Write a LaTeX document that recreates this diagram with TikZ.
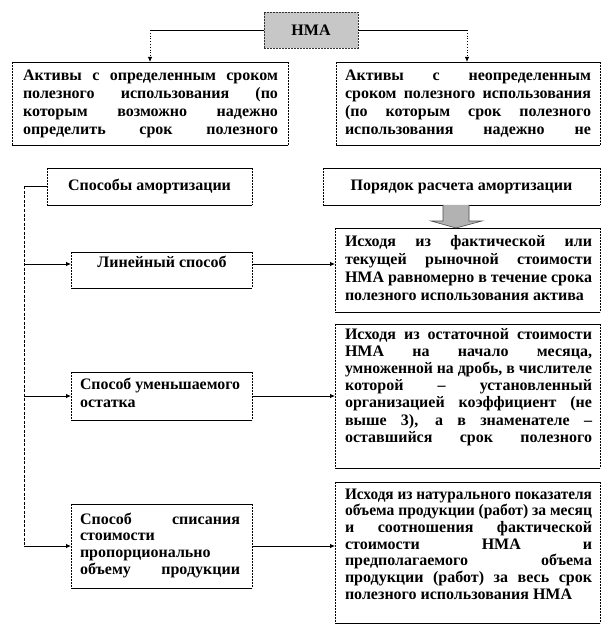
\documentclass[tikz,border=0pt]{standalone}
\usepackage{graphicx}
\usepackage{fontspec}
\setmainfont{Liberation Serif}
\usetikzlibrary{arrows.meta}
\newsavebox\lnbox
\newcommand\jl[1]{\sbox\lnbox{\spaceskip=0pt\xspaceskip=0pt #1}%
  \ifdim\wd\lnbox>\hsize\resizebox{\hsize}{\height}{\usebox\lnbox}%
  \else\makebox[\hsize][s]{\spaceskip=0pt\xspaceskip=0pt #1}\fi\par}
\newcommand\lline[1]{\sbox\lnbox{\spaceskip=0pt\xspaceskip=0pt #1}%
  \ifdim\wd\lnbox>\hsize\resizebox{\hsize}{\height}{\usebox\lnbox}%
  \else\usebox\lnbox\fi\par}
\newcommand\frameit[1]{%
  \draw[edge] (#1.north west) -- (#1.north east) (#1.south west) -- (#1.south east);
  \draw[sidedash] (#1.north west) -- (#1.south west) (#1.north east) -- (#1.south east);}
\newcommand\bfs[1]{\bfseries\fontsize{16}{#1}\selectfont\parindent=0pt\parskip=0pt}
\begin{document}
\begin{tikzpicture}[x=1pt,y=-1pt,
  box/.style={draw=none, inner sep=0pt, outer sep=0pt, anchor=north west},
  txt/.style={inner sep=0pt, outer sep=0pt, anchor=base west, align=left},
  ctxt/.style={inner sep=0pt, font=\bfs{17}},
  edge/.style={line width=0.8pt},
  sidedash/.style={line width=0.8pt, dash pattern=on 2pt off 1pt},
  link/.style={line width=0.8pt},
  tip/.style={line width=0.8pt, -{Latex[length=5pt,width=4.5pt]}},
  vdash/.style={line width=0.9pt, dash pattern=on 3pt off 1.5pt},
]
\useasboundingbox (0,0) rectangle (612,636);

% top node
\node[box, minimum width=94pt, minimum height=36pt, fill=black!22,
      draw=black!80, line width=0.9pt, dash pattern=on 2pt off 1pt] (nma) at (264,12) {};
\node[ctxt] (nmat) at (nma.center) {НМА};

% top boxes
\node[box, minimum width=276pt, minimum height=83pt] (a1) at (12,62) {};
\frameit{a1}
\node[txt, text width=255pt, font=\bfs{18}] (a1t) at (23,81) {%
\jl{Активы с определенным сроком}
\jl{полезного использования (по}
\jl{которым возможно надежно}
\jl{определить срок полезного}};

\node[box, minimum width=264pt, minimum height=83pt] (a2) at (336,62) {};
\frameit{a2}
\node[txt, text width=246pt, font=\bfs{18}] (a2t) at (345,81) {%
\jl{Активы с неопределенным}
\jl{сроком полезного использования}
\jl{(по которым срок полезного}
\jl{использования надежно не}};

% headers
\node[box, minimum width=205pt, minimum height=37pt] (sp) at (47,168) {};
\frameit{sp}
\node[ctxt] (spt) at (sp.center) {Способы амортизации};

\node[box, minimum width=277pt, minimum height=37pt] (pr) at (323,168) {};
\frameit{pr}
\node[ctxt] (prt) at (pr.center) {Порядок расчета амортизации};

% right boxes
\node[box, minimum width=265pt, minimum height=84pt] (r1) at (335,228) {};
\frameit{r1}
\node[txt, text width=247pt, font=\bfs{18}] (r1t) at (345,246) {%
\jl{Исходя из фактической или}
\jl{текущей рыночной стоимости}
\jl{НМА равномерно в течение срока}
\lline{полезного использования актива}};

\node[box, minimum width=265pt, minimum height=144pt] (r2) at (335,324) {};
\frameit{r2}
\node[txt, text width=247pt, font=\bfs{17.2}] (r2t) at (345,339) {%
\jl{Исходя из остаточной стоимости}
\jl{НМА на начало месяца,}
\jl{умноженной на дробь, в числителе}
\jl{которой – установленный}
\jl{организацией коэффициент (не}
\jl{выше 3), а в знаменателе –}
\jl{оставшийся срок полезного}};

\node[box, minimum width=265pt, minimum height=141pt] (r3) at (335,482) {};
\frameit{r3}
\node[txt, text width=247pt, font=\bfs{16.7}] (r3t) at (345,499) {%
\jl{Исходя из натурального показателя}
\jl{объема продукции (работ) за месяц}
\jl{и соотношения фактической}
\jl{стоимости НМА и}
\jl{предполагаемого объема}
\jl{продукции (работ) за весь срок}
\lline{полезного использования НМА}};

% method boxes
\node[box, minimum width=181pt, minimum height=36pt] (m1) at (71,252) {};
\frameit{m1}
\coordinate (m1w) at (71,264);
\coordinate (m1e) at (252,264);
\node[ctxt, anchor=base] (m1t) at (162,267) {Линейный способ};

\node[box, minimum width=181pt, minimum height=48pt] (m2) at (71,372) {};
\frameit{m2}
\node[txt, text width=160pt, font=\bfs{18}] (m2t) at (80,389) {%
\lline{Способ уменьшаемого}
\lline{остатка}};

\node[box, minimum width=181pt, minimum height=84pt] (m3) at (71,504) {};
\frameit{m3}
\node[txt, text width=160pt, font=\bfs{16.7}] (m3t) at (80,524) {%
\jl{Способ списания}
\lline{стоимости}
\lline{пропорционально}
\jl{объему продукции}};

% connectors from top node
\coordinate (cL) at (150,30);
\coordinate (cR) at (467,30);
\draw[link] (nma.west |- cL) -- (cL);
\draw[tip, dotted] (cL) -- (cL |- a1.north);
\draw[link] (nma.east |- cR) -- (cR);
\draw[tip, dotted] (cR) -- (cR |- a2.north);

% left bus
\coordinate (v0) at (24,186.5);
\coordinate (v3) at (24,546);
\draw[link] (sp.west) -- (v0);
\draw[vdash] (v0) -- (v3);
\draw[tip] (v3) -- (m3.west);
\draw[tip] (v0 |- m1w) -- (m1w);
\draw[tip] (v0 |- m2.west) -- (m2.west);

% method -> description
\draw[tip] (m1e) -- (r1.west |- m1e);
\draw[tip] (m2.east) -- (r2.west |- m2.east);
\draw[tip] (m3.east) -- (r3.west |- m3.east);

% block arrow
\draw[line width=0.6pt, draw=black!70, fill=black!30]
  (443,205) -- (443,221) -- (431,221) -- (456,228) -- (482,221) -- (469,221) -- (469,205);
\end{tikzpicture}
\end{document}
